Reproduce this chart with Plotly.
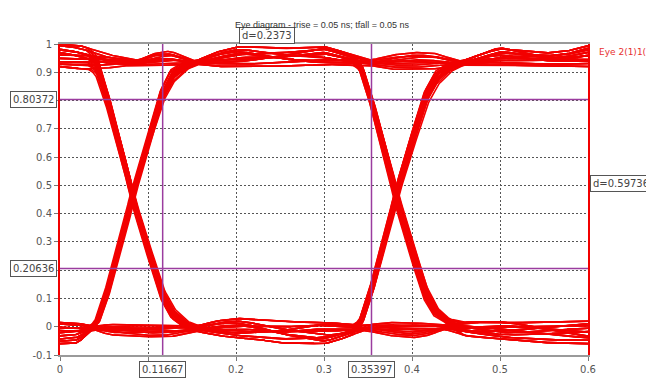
import numpy as np
import plotly.graph_objects as go

# ---- data ----
HIGH_LEVEL = 0.93           # nominal "1" level
CROSSINGS = [0.082, 0.382]  # edge crossing times (ns)

# normalised edge (step) shape vs. time relative to crossing
EDGE_DT = [-0.06, -0.05, -0.045, -0.04, -0.03, -0.022, -0.01, 0.0, 0.01, 0.02, 0.033, 0.045, 0.06, 0.075]
EDGE_S = [0.0, 0.0, 0.008, 0.025, 0.12, 0.22, 0.36, 0.5, 0.615, 0.72, 0.86, 0.935, 0.98, 1.0]

# ripple envelope of the "1" band (offset from HIGH_LEVEL)
HIGH_T = [0, 0.025, 0.05, 0.07, 0.088, 0.105, 0.125, 0.153, 0.175, 0.2, 0.225, 0.25, 0.275,
          0.3, 0.325, 0.352, 0.375, 0.4, 0.425, 0.455, 0.48, 0.5, 0.525, 0.55, 0.575, 0.6]
HIGH_UP = [0.07, 0.065, 0.04, 0.025, 0.012, 0.04, 0.05, 0.008, 0.04, 0.06, 0.06, 0.055, 0.06,
           0.065, 0.04, 0.012, 0.03, 0.04, 0.04, 0.008, 0.04, 0.06, 0.05, 0.04, 0.045, 0.065]
HIGH_LO = [-0.01, -0.02, -0.02, -0.01, -0.008, -0.01, -0.01, 0.0, -0.01, -0.01, -0.01, -0.01, -0.01,
           -0.005, -0.005, -0.005, -0.02, -0.02, -0.02, -0.005, -0.01, -0.01, -0.01, -0.01, -0.01, -0.01]

# ripple envelope of the "0" band
LOW_T = [0, 0.02, 0.037, 0.055, 0.075, 0.1, 0.125, 0.153, 0.175, 0.2, 0.225, 0.25, 0.275,
         0.3, 0.325, 0.345, 0.37, 0.4, 0.42, 0.437, 0.46, 0.5, 0.525, 0.55, 0.575, 0.6]
LOW_UP = [0.015, 0.015, 0.0, 0.01, 0.01, 0.012, 0.01, 0.0, 0.02, 0.03, 0.025, 0.02, 0.02,
          0.02, 0.01, 0.005, 0.015, 0.015, 0.01, 0.005, 0.02, 0.02, 0.02, 0.02, 0.02, 0.02]
LOW_LO = [-0.06, -0.06, -0.008, -0.03, -0.035, -0.04, -0.04, -0.015, -0.03, -0.04, -0.045, -0.06, -0.06,
          -0.065, -0.04, -0.012, -0.03, -0.04, -0.03, -0.008, -0.035, -0.05, -0.055, -0.06, -0.06, -0.06]

BIT_PATTERNS = [(0, 0, 0), (0, 0, 1), (0, 1, 0), (0, 1, 1), (1, 0, 0), (1, 0, 1), (1, 1, 0), (1, 1, 1)]

# where each trace sits inside the band envelope (0 = lower edge, 1 = upper edge)
WEIGHT_T = [0, 0.1, 0.2, 0.3, 0.4, 0.5, 0.6]
WEIGHT_SETS = [
    [1.0, 0.9, 1.0, 0.95, 1.0, 0.9, 1.0],
    [0.0, 0.1, 0.0, 0.05, 0.0, 0.1, 0.0],
    [0.5, 0.9, 0.3, 0.7, 0.2, 0.8, 0.5],
    [0.8, 0.3, 0.7, 0.2, 0.9, 0.4, 0.7],
    [0.2, 0.6, 0.9, 0.4, 0.1, 0.5, 0.9],
    [0.95, 0.6, 0.1, 0.3, 0.7, 1.0, 0.3],
    [0.1, 0.4, 0.6, 0.85, 0.5, 0.2, 0.15],
    [0.65, 0.15, 0.45, 0.6, 0.35, 0.7, 0.8],
    [0.35, 0.75, 0.8, 0.1, 0.6, 0.3, 0.55],
    [0.75, 0.5, 0.2, 0.9, 0.8, 0.6, 0.25],
]
JITTER = [-0.002, 0.0015, -0.001, 0.0025, 0.0, -0.0025, 0.001, -0.0015, 0.002, 0.0005]

MARK_X = [0.11667, 0.35397]
MARK_Y = [0.80372, 0.20636]

X_TICKS = [0, 0.1, 0.2, 0.3, 0.4, 0.5, 0.6]
X_TICKTEXT = ["0", "", "0.2", "0.3", "0.4", "0.5", "0.6"]
Y_TICKS = [-0.1, 0, 0.1, 0.2, 0.3, 0.4, 0.5, 0.6, 0.7, 0.8, 0.9, 1]
Y_TICKTEXT = ["-0.1", "0", "0.1", "", "0.3", "0.4", "0.5", "0.6", "0.7", "", "0.9", "1"]

TITLE = "Eye diagram - trise = 0.05 ns; tfall = 0.05 ns"
LEGEND_TEXT = "Eye 2(1)1(1)"

RED = "#f20000"
PURPLE = "#9b3c9f"
FONT = "DejaVu Sans"


def smooth(a, n=11):
    pad = n // 2
    return np.convolve(np.pad(a, pad, mode="edge"), np.ones(n) / n, mode="valid")


# ---- build traces ----
t = np.linspace(0, 0.6, 601)
hup = smooth(np.interp(t, HIGH_T, HIGH_UP))
hlo = smooth(np.interp(t, HIGH_T, HIGH_LO))
lup = smooth(np.interp(t, LOW_T, LOW_UP))
llo = smooth(np.interp(t, LOW_T, LOW_LO))

fig = go.Figure()
nw = len(WEIGHT_SETS)
for p, (a, b, c) in enumerate(BIT_PATTERNS):
    for v, jt in enumerate(JITTER):
        s1 = np.interp(t - CROSSINGS[0] - jt, EDGE_DT, EDGE_S)
        s2 = np.interp(t - CROSSINGS[1] + jt, EDGE_DT, EDGE_S)
        lev = a + (b - a) * s1 + (c - b) * s2
        wh = smooth(np.interp(t, WEIGHT_T, WEIGHT_SETS[(v + p) % nw]), 41)
        wl = smooth(np.interp(t, WEIGHT_T, WEIGHT_SETS[(v + 3 * p + 5) % nw]), 41)
        rh = hlo + wh * (hup - hlo)
        rl = llo + wl * (lup - llo)
        y = HIGH_LEVEL * lev + rh * lev + rl * (1 - lev)
        fig.add_trace(go.Scatter(x=t, y=y, mode="lines",
                                 line=dict(color=RED, width=1.6),
                                 showlegend=False, hoverinfo="skip"))

# ---- marker lines ----
shapes = []
for mx in MARK_X:
    shapes.append(dict(type="line", xref="x", yref="paper", x0=mx, x1=mx, y0=0, y1=1,
                       line=dict(color=PURPLE, width=1.5)))
for my in MARK_Y:
    shapes.append(dict(type="line", xref="paper", yref="y", x0=0, x1=1, y0=my, y1=my,
                       line=dict(color=PURPLE, width=1.5)))

box = dict(bordercolor="#555", borderwidth=1, borderpad=2, bgcolor="white",
           font=dict(family=FONT, size=10, color="#444"), showarrow=False)
ann = []
for mx in MARK_X:
    ann.append(dict(text=f"{mx:.5f}", x=mx, xref="x", y=0, yref="paper",
                    yanchor="top", xanchor="center", yshift=-6, **box))
for my in MARK_Y:
    ann.append(dict(text=f"{my:.5f}", x=0, xref="paper", y=my, yref="y",
                    xanchor="right", yanchor="middle", xshift=-3, **box))
ann.append(dict(text=f"d={MARK_X[1]-MARK_X[0]:.4f}", x=(MARK_X[0] + MARK_X[1]) / 2, xref="x",
                y=1, yref="paper", xanchor="center", yanchor="bottom", yshift=0, **box))
ann.append(dict(text=f"d={MARK_Y[0]-MARK_Y[1]:.5f}", x=1, xref="paper",
                y=(MARK_Y[0] + MARK_Y[1]) / 2, yref="y", xanchor="left", yanchor="middle",
                xshift=2, **box))
ann.append(dict(text=LEGEND_TEXT, x=1, xref="paper", y=1, yref="paper", xanchor="left",
                yanchor="middle", xshift=9, yshift=-8, showarrow=False,
                font=dict(family=FONT, size=9, color="#e83030")))
ann.append(dict(text=TITLE, x=0.5, xref="paper", y=1, yref="paper", xanchor="center",
                yanchor="middle", yshift=19, xshift=-2, showarrow=False,
                font=dict(family="Liberation Sans", size=9, color="#333")))

# the page body has an 8 px margin, so the figure is 8 px smaller on each side
fig.update_layout(
    width=646, height=379,
    margin=dict(l=52, r=66, t=36, b=29),
    plot_bgcolor="white", paper_bgcolor="white",
    shapes=shapes, annotations=ann,
    font=dict(family=FONT, size=10, color="#555"),
    xaxis=dict(range=[0, 0.6], tickvals=X_TICKS, ticktext=X_TICKTEXT,
               showgrid=True, gridcolor="#555", griddash="2px,2px", gridwidth=1,
               zeroline=False, showline=True, linecolor="#9a9a9a", linewidth=1.5, mirror=True,
               ticks="outside", ticklen=4, tickcolor="#777"),
    yaxis=dict(range=[-0.1, 1], tickvals=Y_TICKS, ticktext=Y_TICKTEXT,
               showgrid=True, gridcolor="#555", griddash="2px,2px", gridwidth=1,
               zeroline=False, showline=True, linecolor=RED, linewidth=2, mirror=True,
               ticks="outside", ticklen=4, tickcolor="#777"),
)

fig.write_html("out.html")
